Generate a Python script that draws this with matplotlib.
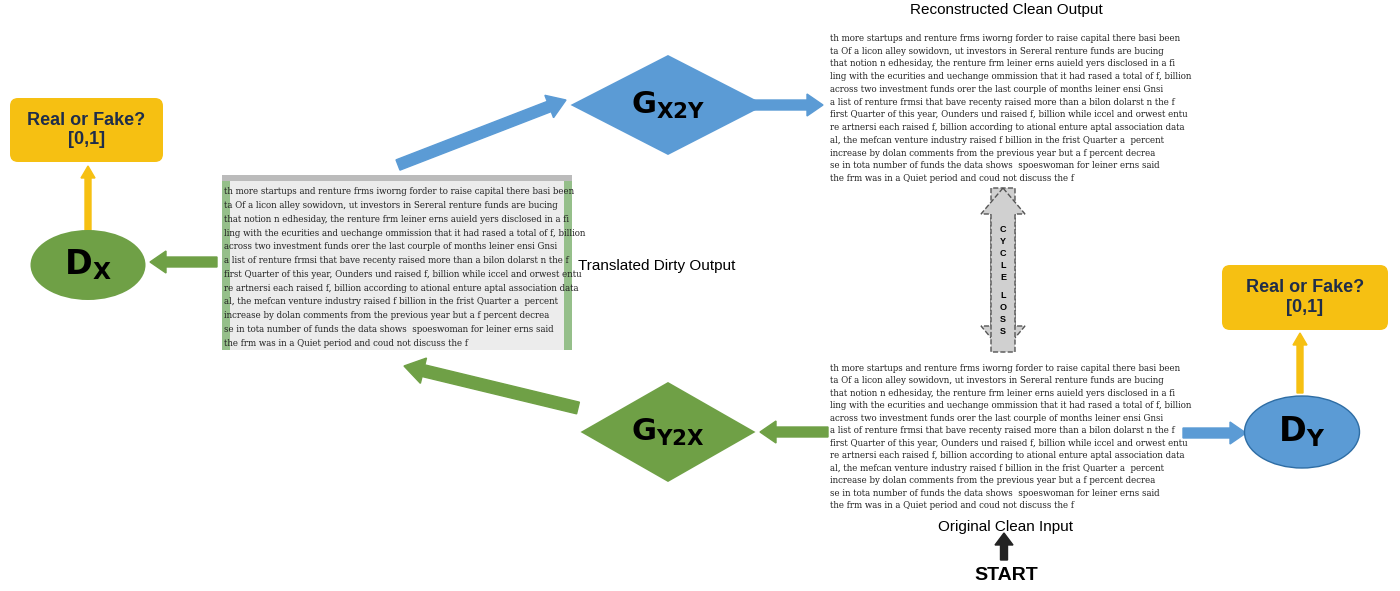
import matplotlib
matplotlib.use("Agg")
import matplotlib.pyplot as plt
from matplotlib.patches import FancyBboxPatch, Ellipse, Polygon, Rectangle, FancyArrow

plt.rcParams['font.family'] = ['Liberation Sans', 'DejaVu Sans']

doc_lines = [
    "th more startups and renture frms iworng forder to raise capital there basi been",
    "ta Of a licon alley sowidovn, ut investors in Sereral renture funds are bucing",
    "that notion n edhesiday, the renture frm leiner erns auield yers disclosed in a fi",
    "ling with the ecurities and uechange ommission that it had rased a total of f, billion",
    "across two investment funds orer the last courple of months leiner ensi Gnsi",
    "a list of renture frmsi that bave recenty raised more than a bilon dolarst n the f",
    "first Quarter of this year, Ounders und raised f, billion while iccel and orwest entu",
    "re artnersi each raised f, billion according to ational enture aptal association data",
    "al, the mefcan venture industry raised f billion in the frist Quarter a  percent",
    "increase by dolan comments from the previous year but a f percent decrea",
    "se in tota number of funds the data shows  spoeswoman for leiner erns said",
    "the frm was in a Quiet period and coud not discuss the f",
]
labels = {"dx": "D", "dy": "D", "gx2y": "G", "gy2x": "G"}

BLUE = "#5B9BD5"
GREEN = "#6FA046"
YEL = "#F6C012"

fig = plt.figure(figsize=(14, 5.91), dpi=100)
ax = fig.add_axes([0, 0, 1, 1])
ax.set_xlim(0, 1400)
ax.set_ylim(591, 0)
ax.axis('off')

def panel(x0, y0, x1, y1, dirty=False):
    bg = Rectangle((x0, y0), x1 - x0, y1 - y0, facecolor="#ECECEC" if dirty else "white",
                   edgecolor="none", zorder=1)
    ax.add_patch(bg)
    if dirty:
        for xe in (x0, x1 - 8):
            ax.add_patch(Rectangle((xe, y0), 8, y1 - y0, facecolor="#4E9A3A", alpha=0.55,
                                   edgecolor="none", zorder=1))
        ax.add_patch(Rectangle((x0, y0), x1 - x0, 6, facecolor="#BBBBBB", edgecolor="none", zorder=1))
    n = len(doc_lines)
    step = (y1 - y0 - 10) / n
    for i, ln in enumerate(doc_lines):
        t = ax.text(x0 + 2, y0 + 10 + step * (i + 0.5), ln, fontsize=6.9,
                    family=['DejaVu Serif'], fontstretch='condensed',
                    color="#222222", va='center', ha='left', zorder=2)
        t.set_clip_path(bg)

def arrow(x0, y0, x1, y1, color, w=9, hw=20, hl=16):
    ax.add_patch(FancyArrow(x0, y0, x1 - x0, y1 - y0, width=w, head_width=hw,
                            head_length=hl, length_includes_head=True,
                            color=color, zorder=3))

def diamond(cx, cy, w, h, color):
    ax.add_patch(Polygon([(cx - w / 2, cy), (cx, cy - h / 2), (cx + w / 2, cy), (cx, cy + h / 2)],
                         closed=True, facecolor=color, edgecolor="none", zorder=3))

def ybox(x0, y0, x1, y1):
    ax.add_patch(FancyBboxPatch((x0, y0), x1 - x0, y1 - y0, boxstyle="round,pad=0,rounding_size=8",
                                facecolor=YEL, edgecolor="none", zorder=3))
    ax.text((x0 + x1) / 2, (y0 + y1) / 2, "Real or Fake?\n[0,1]", ha='center', va='center',
            fontsize=13, fontweight='bold', color="#1F2D4A", linespacing=1.2, zorder=4)

# panels
panel(222, 175, 572, 350, dirty=True)
panel(828, 22, 1175, 185)
panel(828, 352, 1175, 512)
ax.text(578, 266, "Translated Dirty Output", fontsize=11, va='center', ha='left')
ax.text(1006, 10, "Reconstructed Clean Output", fontsize=11, va='center', ha='center')
ax.text(1005, 527, "Original Clean Input", fontsize=11, va='center', ha='center')
ax.text(1006, 575, "START", fontsize=14, fontweight='bold', va='center', ha='center')

# left discriminator
ybox(10, 98, 163, 162)
arrow(88, 232, 88, 166, YEL, w=6, hw=14, hl=12)
ax.add_patch(Ellipse((88, 265), 115, 70, facecolor=GREEN, edgecolor="none", zorder=3))
ax.text(88, 265, r"$\mathbf{%s_X}$" % labels["dx"], fontsize=24, ha='center', va='center', zorder=4)
arrow(217, 262, 150, 262, GREEN, w=10, hw=22, hl=16)

# G X2Y
arrow(398, 165, 566, 100, BLUE, w=11, hw=24, hl=18)
diamond(668, 105, 195, 100, BLUE)
ax.text(668, 105, r"$\mathbf{%s_{X2Y}}$" % labels["gx2y"], fontsize=22, ha='center', va='center', zorder=4)
arrow(752, 105, 823, 105, BLUE, w=10, hw=22, hl=16)

# cycle loss
ax.add_patch(FancyArrow(1003, 188, 0, 164, width=24, head_width=44, head_length=26,
                        length_includes_head=True, facecolor="#D0D0D0", edgecolor="#555555",
                        linestyle='--', linewidth=1, zorder=3))
ax.add_patch(FancyArrow(1003, 352, 0, -164, width=24, head_width=44, head_length=26,
                        length_includes_head=True, facecolor="#D0D0D0", edgecolor="#555555",
                        linestyle='--', linewidth=1, zorder=3))
for i, ch in enumerate("CYCLE"):
    ax.text(1003, 230 + i * 12, ch, fontsize=6.5, fontweight='bold', ha='center', va='center', zorder=4)
for i, ch in enumerate("LOSS"):
    ax.text(1003, 296 + i * 12, ch, fontsize=6.5, fontweight='bold', ha='center', va='center', zorder=4)

# start arrow
arrow(1004, 560, 1004, 533, "#222222", w=7, hw=18, hl=12)

# right discriminator
arrow(1183, 433, 1246, 433, BLUE, w=10, hw=22, hl=16)
ax.add_patch(Ellipse((1302, 432), 115, 72, facecolor=BLUE, edgecolor="#2E6DA4", linewidth=1, zorder=3))
ax.text(1302, 432, r"$\mathbf{%s_Y}$" % labels["dy"], fontsize=24, ha='center', va='center', zorder=4)
arrow(1300, 393, 1300, 333, YEL, w=6, hw=14, hl=12)
ybox(1222, 265, 1388, 330)

# G Y2X
arrow(828, 432, 760, 432, GREEN, w=10, hw=22, hl=16)
diamond(668, 432, 175, 100, GREEN)
ax.text(668, 432, r"$\mathbf{%s_{Y2X}}$" % labels["gy2x"], fontsize=22, ha='center', va='center', zorder=4)
arrow(578, 408, 404, 366, GREEN, w=12, hw=26, hl=20)

fig.savefig("out.png", dpi=100)
